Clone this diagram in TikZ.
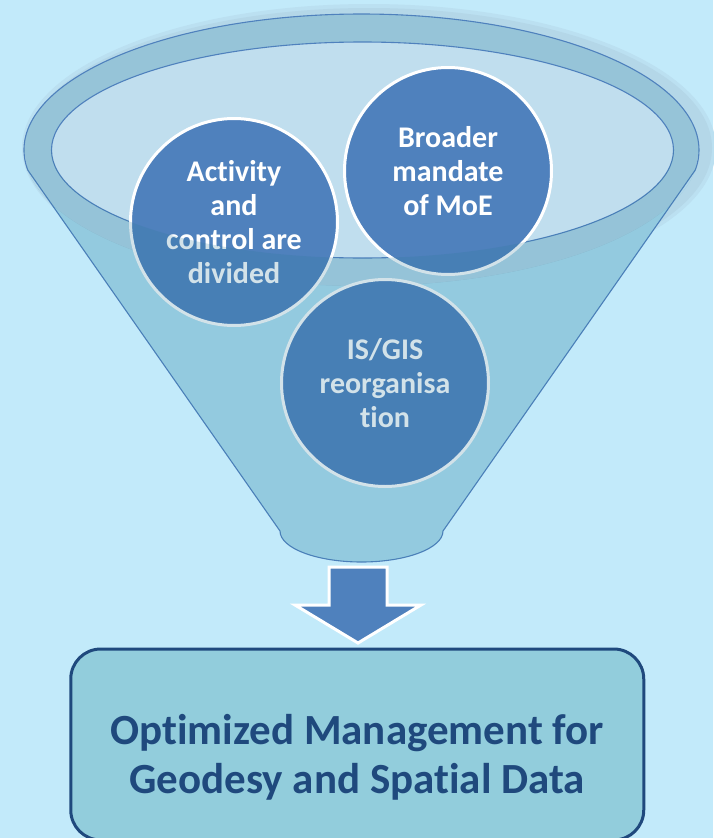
\documentclass[tikz,border=0pt]{standalone}
\usepackage{fontspec}
\setmainfont{Carlito}[Ligatures=NoCommon]
\definecolor{bgc}{HTML}{C2EAFA}
\definecolor{haloc}{HTML}{B4D7E8}
\definecolor{halosoft}{HTML}{BBE0F1}
\definecolor{rimc}{HTML}{96C4D8}
\definecolor{rimpre}{HTML}{B2D8E9}
\definecolor{bodypre}{HTML}{AFE1F3}
\definecolor{innerc}{HTML}{C0DEEE}
\definecolor{linec}{HTML}{4F81BD}
\definecolor{circc}{HTML}{4F81BD}
\definecolor{frontc}{HTML}{2D7899}
\definecolor{boxc}{HTML}{92CDDC}
\definecolor{navy}{HTML}{1F497D}
\begin{document}
\begin{tikzpicture}[x=1pt,y=1pt,
  circ/.style={circle, fill=circc, draw=white, line width=3pt,
    minimum size=207pt, inner sep=0pt, text=white,
    font=\fontsize{30}{34}\selectfont\bfseries, align=center},
  edge/.style={draw=linec, line width=1.1pt},
  resultbox/.style={draw=navy, line width=3pt, fill=boxc, rounded corners=30pt,
    minimum width=573pt, minimum height=191pt, inner sep=0pt, text=navy,
    font=\fontsize{43}{49}\selectfont\bfseries, align=center},
  blockarrow/.style={fill=circc, draw=white, line width=3pt, line join=miter}
]
\useasboundingbox (0,0) rectangle (713,-838);
\fill[bgc] (0,0) rectangle (713,-838);
% halo behind the funnel rim
\fill[halosoft] (369,-148) ellipse [x radius=347, y radius=144];
\fill[haloc] (369,-148) ellipse [x radius=343, y radius=140];
% funnel body
\fill[bodypre] (27.7,-170) -- (280,-531)
  arc[start angle=180, end angle=360, x radius=81.5, y radius=31]
  -- (695.3,-170) -- cycle;
% outer rim
\fill[rimc] (361.5,-150) ellipse [x radius=337.5, y radius=136];
\fill[rimpre] (24,-150) arc[start angle=180, end angle=360, x radius=337.5, y radius=136] -- cycle;
\draw[edge] (27.7,-170) -- (280,-531)
  arc[start angle=180, end angle=360, x radius=81.5, y radius=31]
  -- (695.3,-170);
\draw[edge] (27.7,-170) arc[start angle=188.46, end angle=-8.46, x radius=337.5, y radius=136];
% inner opening
\filldraw[fill=innerc, edge] (362.5,-150) ellipse [x radius=311, y radius=108];
% circles
\node[circ] (c1) at (234,-222) {Activity\\and\\control are\\divided};
\node[circ] (c2) at (448,-171) {Broader\\mandate\\of MoE};
\node[circ] (c3) at (385,-383) {IS/GIS\\reorganisa\\tion};
% front face of the funnel (translucent)
\fill[frontc, fill opacity=0.21] (24,-150) -- (27.7,-170) -- (280,-531)
  arc[start angle=180, end angle=360, x radius=81.5, y radius=31]
  -- (695.3,-170) -- (699,-150) -- (673.5,-150)
  arc[start angle=0, end angle=-180, x radius=311, y radius=108] -- cycle;
% down arrow
\draw[blockarrow] (329,-567) -- (387,-567) -- (387,-605) -- (421,-605)
  -- (358,-643) -- (295,-605) -- (329,-605) -- cycle;
% result box
\node[resultbox] (res) at (357.25,-744.5)
  {\rule{0pt}{55pt}Optimized Management for\\Geodesy and Spatial Data};
\end{tikzpicture}
\end{document}
